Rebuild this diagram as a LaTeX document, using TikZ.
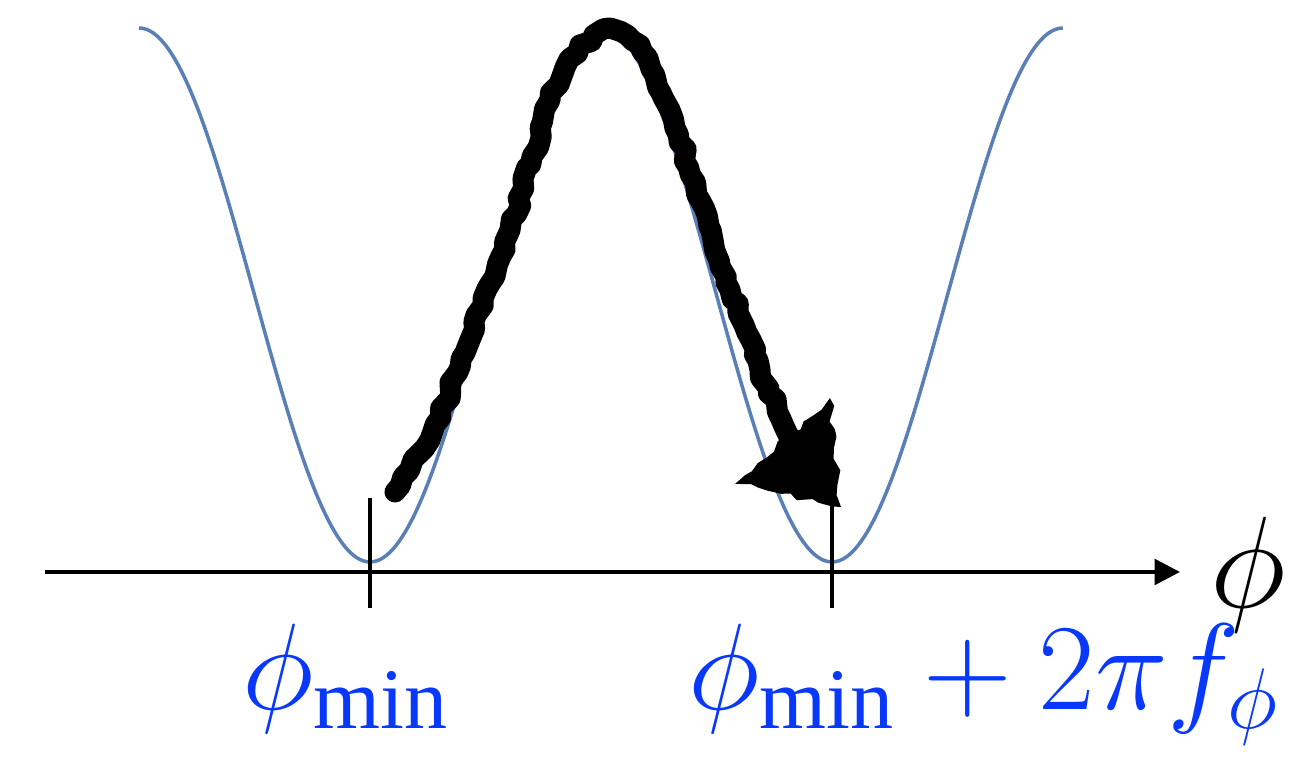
\RequirePackage{fix-cm}
\documentclass[tikz,border=0pt]{standalone}
\usepackage{fontspec}
\setmainfont{Liberation Serif}
\definecolor{curveblue}{RGB}{90,126,182}
\definecolor{labelblue}{RGB}{8,56,252}
\definecolor{ink}{RGB}{0,0,0}
\usepackage{tikz}
\usetikzlibrary{arrows.meta,positioning,calc,decorations.pathmorphing}

\tikzset{
  axisline/.style={ink, line width=1.2pt},
  tickline/.style={ink, line width=1.2pt},
  scribble/.style={ink, line width=6pt, line cap=round, line join=round,
                   decorate, decoration={random steps, segment length=2.5pt, amplitude=0.9pt}},
  biglabel/.style={font=\fontsize{35}{41}\selectfont, inner sep=0pt}
}

\begin{document}
\begin{tikzpicture}
  \useasboundingbox (0,0) rectangle (13.07,7.60);

  \coordinate (ax0) at (0.45,1.88);
  \coordinate (ax1) at (11.80,1.88);
  \draw[axisline, -{Triangle[length=7.2pt, width=7.2pt]}] (ax0) -- (ax1);
  \node[biglabel, text=ink, font=\fontsize{37}{43}\selectfont] (phi) at (12.48,1.85) {$\phi$};

  \draw[curveblue, line width=1pt, domain=1.39:10.63, samples=240, smooth]
    plot (\x, {4.65 - 2.67*cos(360*(\x-3.70)/4.62)});

  \coordinate (t0a) at (3.70,2.62);
  \coordinate (t0b) at (3.70,1.52);
  \coordinate (t1a) at (8.32,2.58);
  \coordinate (t1b) at (8.32,1.52);
  \draw[tickline] (t0a) -- (t0b);
  \draw[tickline] (t1a) -- (t1b);

  \node[biglabel, text=labelblue, anchor=base west] (lmin) at (2.42,0.50) {$\phi_{\mathrm{min}}$};
  \node[biglabel, text=labelblue, anchor=base west] (lmax) at (6.88,0.50) {$\phi_{\mathrm{min}}+2\pi f_{\phi}$};

  \draw[scribble] (3.95,2.68) -- (4.30,3.20) -- (4.70,4.20) -- (5.10,5.30) -- (5.50,6.60)
    -- (5.80,7.15) -- (6.10,7.32) -- (6.40,7.15) -- (6.70,6.50) -- (7.00,5.60)
    -- (7.30,4.70) -- (7.60,3.90) -- (7.95,3.15);
  \fill[ink, decorate, decoration={random steps, segment length=3pt, amplitude=1pt}]
    (7.35,2.76) -- (8.30,3.62) -- (8.41,2.53) -- cycle;
\end{tikzpicture}
\end{document}
